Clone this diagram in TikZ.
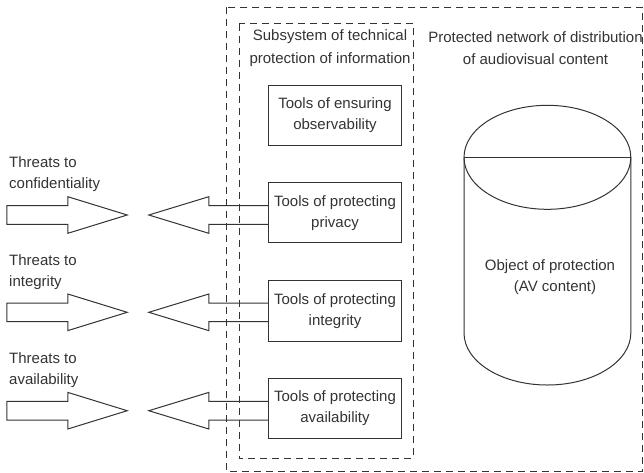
\documentclass[tikz,border=0pt]{standalone}
\usepackage{fontspec}
\setmainfont{Liberation Sans}
\usetikzlibrary{calc}
\definecolor{ink}{HTML}{333333}
\begin{document}
\begin{tikzpicture}[x=1pt,y=-1pt, line width=1pt,
  txt/.style={font=\fontsize{15}{21}\selectfont, text=ink, inner sep=0pt, align=center},
  titletxt/.style={txt, font=\fontsize{15}{22.5}\selectfont},
  toolbox/.style={draw=ink, minimum width=133.4pt, minimum height=60.5pt, txt},
  dashbox/.style={draw=ink, dash pattern=on 7pt off 5pt},
  blockarrow/.style={draw=ink, line join=miter}]
\useasboundingbox (0,0) rectangle (644,472);

% dashed frames
\draw[dashbox] (226.7,7) rectangle (642.5,471.5);
\draw[dashbox] (239,23.5) rectangle (413.3,458.3);

% titles
\node[titletxt] (subt) at (330,48) {Subsystem of technical\\protection of information};
\node[titletxt] (net) at (535.5,48) {Protected network of distribution\\of audiovisual content};

% tool boxes
\node[toolbox] (obs)   at (335,115.5) {Tools of ensuring\\observability};
\node[toolbox] (priv)  at (335,212.7) {Tools of protecting\\privacy};
\node[toolbox] (integ) at (335,311)   {Tools of protecting\\integrity};
\node[toolbox] (avail) at (335,408.3) {Tools of protecting\\availability};

% arrow anchor points
\coordinate (pa) at ($(priv.west)+(0,2.3)$);
\coordinate (ia) at ($(integ.west)+(0,1.3)$);
\coordinate (aa) at ($(avail.west)+(0,2.4)$);

% left-pointing block arrows out of the boxes
\foreach \c in {pa,ia,aa}{
  \draw[blockarrow] (\c) ++(0,-9.3) -- ++(-59,0) -- ++(0,-9) -- ++(-60,18.3)
     -- ++(60,18.3) -- ++(0,-9) -- ++(59,0);
}

% threat arrows (tips)
\coordinate (t1) at ($(pa)+(-140.6,0)$);
\coordinate (t2) at ($(ia)+(-140.6,0)$);
\coordinate (t3) at ($(aa)+(-140.6,0)$);
\foreach \c in {t1,t2,t3}{
  \draw[blockarrow] (\c) -- ++(-59.4,-18.3) -- ++(0,9) -- ++(-61,0) -- ++(0,18.6)
     -- ++(61,0) -- ++(0,9) -- cycle;
}

% threat labels
\node[txt, align=left, anchor=west] (th1) at ($(t1)+(-118.5,-40.5)$) {Threats to\\confidentiality};
\node[txt, align=left, anchor=west] (th2) at ($(t2)+(-118.5,-40.5)$) {Threats to\\integrity};
\node[txt, align=left, anchor=west] (th3) at ($(t3)+(-118.5,-40.5)$) {Threats to\\availability};

% cylinder
\coordinate (ctop) at (547.4,157.3);
\coordinate (cbot) at (547.4,333);
\draw[ink] (ctop) ellipse [x radius=83.4pt, y radius=52pt];
\draw[ink] ($(ctop)+(-83.4,0)$) -- ($(ctop)+(83.4,0)$);
\draw[ink] ($(ctop)+(-83.4,0)$) -- ($(cbot)+(-83.4,0)$)
   arc[start angle=180, end angle=360, x radius=83.4pt, y radius=52pt]
   -- ($(ctop)+(83.4,0)$);
\node[txt] (obj) at (550,277) {Object of protection\\\hspace*{10pt}(AV content)};
\end{tikzpicture}
\end{document}
